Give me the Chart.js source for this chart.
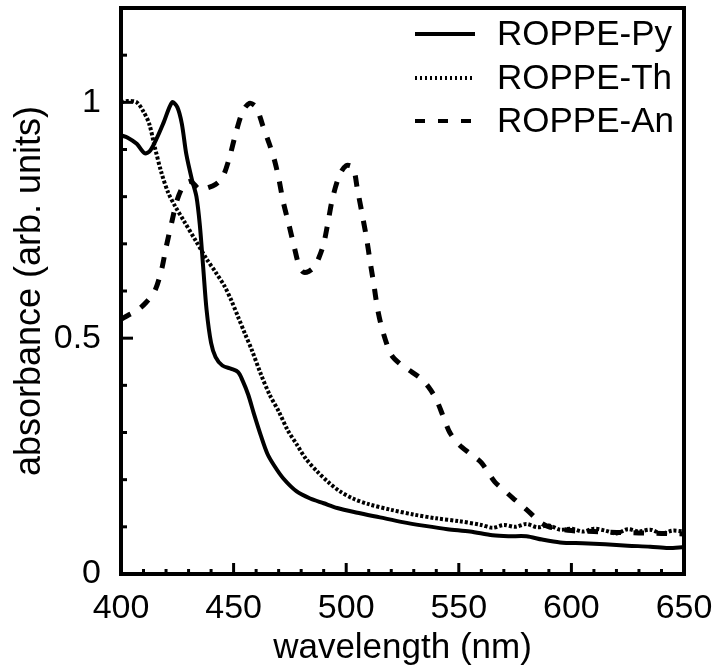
<!DOCTYPE html>
<html lang="en">
  <head>
    <meta charset="UTF-8" />
    <title>ROPPE absorbance</title>
    <script src="https://cdn.jsdelivr.net/npm/chart.js"></script>
    <style>
      html, body { margin: 0; padding: 0; background: #fff; }
      canvas { display: block; }
    </style>
  </head>
  <body>
    <canvas id="absChart" width="717" height="669"></canvas>
    <script>
      // series (wavelength in nm, absorbance arb. units)
      const seriesNames = ["ROPPE-Py", "ROPPE-Th", "ROPPE-An"]

      const pyWl = [400, 403, 407, 410.5, 413, 416, 419, 422.7, 425, 427, 429, 431.5, 433.5, 435, 436.5, 438, 440, 442, 445, 449, 452, 454, 456.5, 459, 462, 465, 468, 472, 478, 484, 490, 496, 505, 515, 525, 535, 545, 555, 565, 572, 580, 587, 595, 605, 615, 625, 635, 643, 650]
      const pyAbs = [0.93, 0.925, 0.912, 0.892, 0.898, 0.925, 0.958, 1.0, 0.99, 0.955, 0.89, 0.836, 0.8, 0.74, 0.65, 0.56, 0.49, 0.46, 0.442, 0.435, 0.428, 0.41, 0.38, 0.34, 0.295, 0.255, 0.23, 0.203, 0.175, 0.16, 0.15, 0.14, 0.13, 0.12, 0.11, 0.102, 0.095, 0.09, 0.082, 0.08, 0.08, 0.073, 0.067, 0.065, 0.063, 0.06, 0.058, 0.055, 0.057]

      const thWl = [400, 403, 407, 410, 412.5, 415, 418, 421, 424, 428, 433, 438, 442, 446, 449, 452, 455, 458, 462, 466, 470, 474, 478, 482, 487, 492, 497, 503, 510, 520, 530, 540, 550, 560, 565, 570, 575, 580, 585, 590, 595, 600, 605, 610, 615, 620, 625, 630, 635, 640, 645, 650]
      const thAbs = [1.0, 1.003, 1.0, 0.98, 0.955, 0.905, 0.85, 0.808, 0.78, 0.748, 0.708, 0.668, 0.64, 0.61, 0.58, 0.545, 0.51, 0.476, 0.425, 0.38, 0.345, 0.305, 0.275, 0.245, 0.218, 0.195, 0.176, 0.16, 0.148, 0.136, 0.126, 0.118, 0.112, 0.104, 0.098, 0.104, 0.1, 0.106, 0.099, 0.103, 0.094, 0.096, 0.09, 0.096, 0.092, 0.086, 0.095, 0.09, 0.094, 0.086, 0.092, 0.09]

      const anWl = [400, 403, 407, 411, 415, 418, 420, 422.5, 425, 428, 431, 435, 438, 442, 445, 448, 451, 454, 457, 460, 463, 466, 468, 470, 472, 474.5, 477, 479, 481, 483.5, 486, 488, 490, 492, 494, 497, 500, 503, 505, 507, 509, 510.7, 512.4, 514, 516.4, 520, 524, 528, 533, 536.5, 540, 543, 546, 550, 555, 560, 566, 570, 574, 578, 582, 586, 590, 600, 610, 620, 630, 640, 650]
      const anAbs = [0.54, 0.548, 0.558, 0.575, 0.6, 0.645, 0.692, 0.745, 0.794, 0.825, 0.832, 0.815, 0.818, 0.826, 0.84, 0.88, 0.935, 0.98, 0.998, 0.99, 0.95, 0.91, 0.88, 0.84, 0.79, 0.742, 0.692, 0.655, 0.64, 0.642, 0.652, 0.672, 0.7, 0.748, 0.798, 0.845, 0.866, 0.862, 0.815, 0.765, 0.713, 0.66, 0.61, 0.56, 0.512, 0.465, 0.445, 0.432, 0.415, 0.397, 0.37, 0.335, 0.3, 0.275, 0.255, 0.236, 0.195, 0.178, 0.161, 0.145, 0.128, 0.11, 0.1, 0.092, 0.09, 0.088, 0.087, 0.086, 0.085]

      // axis ticks
      const xLabelTicks = [400, 450, 500, 550, 600, 650]
      const yLabelTicks = [0, 0.5, 1]

      const FONT = "'Liberation Sans', Arial, Helvetica, sans-serif"

      function toPoints(xs, ys) {
        return xs.map((x, i) => ({ x, y: ys[i] }))
      }

      function isLabelled(list, v) {
        return list.some((t) => Math.abs(t - v) < 1e-6)
      }

      // frame + inward tick marks + legend inside the plot
      const framePlugin = {
        id: "frame",
        afterDatasetsDraw(chart) {
          const { ctx, chartArea: a, scales } = chart
          ctx.save()
          ctx.strokeStyle = "#000"
          ctx.lineWidth = 4
          ctx.strokeRect(a.left, a.top, a.right - a.left, a.bottom - a.top)

          // x ticks, pointing up
          ctx.lineWidth = 3
          scales.x.ticks.forEach((t) => {
            if (t.value <= 400 || t.value >= 650) return
            const px = scales.x.getPixelForValue(t.value)
            const len = isLabelled(xLabelTicks, t.value) ? 11 : 5
            ctx.beginPath()
            ctx.moveTo(px, a.bottom)
            ctx.lineTo(px, a.bottom - len)
            ctx.stroke()
          })
          // y ticks, pointing right
          scales.y.ticks.forEach((t) => {
            if (t.value <= 0 || t.value >= 1.2) return
            const py = scales.y.getPixelForValue(t.value)
            const len = isLabelled(yLabelTicks, t.value) ? 12 : 6
            ctx.beginPath()
            ctx.moveTo(a.left, py)
            ctx.lineTo(a.left + len, py)
            ctx.stroke()
          })

          // legend, top right corner
          const lx0 = 415
          const lx1 = 475
          const rowY = [34, 78, 121]
          ctx.font = "35px " + FONT
          ctx.textBaseline = "middle"
          ctx.fillStyle = "#000"
          chart.data.datasets.forEach((ds, i) => {
            const y = rowY[i]
            ctx.lineWidth = ds.legendWidth
            ctx.setLineDash(ds.legendDash)
            ctx.beginPath()
            ctx.moveTo(lx0, y)
            ctx.lineTo(lx1, y)
            ctx.stroke()
            ctx.setLineDash([])
            ctx.fillText(ds.label, 497, y + 1)
          })
          ctx.restore()
        },
      }

      const ctx = document.getElementById("absChart").getContext("2d")
      new Chart(ctx, {
        type: "scatter",
        data: {
          datasets: [
            {
              label: seriesNames[0],
              data: toPoints(pyWl, pyAbs),
              borderColor: "#000",
              borderWidth: 4,
              legendWidth: 4,
              legendDash: [],
            },
            {
              label: seriesNames[1],
              data: toPoints(thWl, thAbs),
              borderColor: "#000",
              borderWidth: 4,
              borderDash: [3, 2],
              legendWidth: 4,
              legendDash: [2, 3],
            },
            {
              label: seriesNames[2],
              data: toPoints(anWl, anAbs),
              borderColor: "#000",
              borderWidth: 5,
              borderDash: [11, 12],
              legendWidth: 4,
              legendDash: [10, 13],
            },
          ].map((d) => ({
            ...d,
            showLine: true,
            pointRadius: 0,
            tension: 0.3,
            fill: false,
            borderCapStyle: "butt",
          })),
        },
        options: {
          responsive: false,
          animation: false,
          layout: { padding: { top: 8, right: 33, left: 0, bottom: 0 } },
          plugins: {
            legend: { display: false },
            tooltip: { enabled: false },
          },
          scales: {
            x: {
              type: "linear",
              min: 400,
              max: 650,
              afterFit: (s) => {
                s.height = 95
                s.paddingLeft = 0
                s.paddingRight = 0
              },
              grid: { display: false, drawTicks: false },
              border: { display: false },
              ticks: {
                stepSize: 10,
                autoSkip: false,
                maxRotation: 0,
                padding: 14,
                color: "#000",
                font: { family: FONT, size: 34 },
                callback: (v) => (isLabelled(xLabelTicks, v) ? String(v) : ""),
              },
              title: {
                display: true,
                text: "wavelength (nm)",
                color: "#000",
                font: { family: FONT, size: 35 },
                padding: { top: 0, bottom: 0 },
              },
            },
            y: {
              type: "linear",
              min: 0,
              max: 1.2,
              afterFit: (s) => {
                s.width = 121
                s.paddingTop = 0
                s.paddingBottom = 0
              },
              grid: { display: false, drawTicks: false },
              border: { display: false },
              ticks: {
                stepSize: 0.1,
                autoSkip: false,
                padding: 20,
                color: "#000",
                font: { family: FONT, size: 34 },
                callback: (v) => (isLabelled(yLabelTicks, v) ? String(Math.round(v * 10) / 10) : ""),
              },
              title: {
                display: true,
                text: "absorbance (arb. units)",
                color: "#000",
                font: { family: FONT, size: 36 },
                padding: { top: 8, bottom: 0 },
              },
            },
          },
        },
        plugins: [framePlugin],
      })
    </script>
  </body>
</html>
